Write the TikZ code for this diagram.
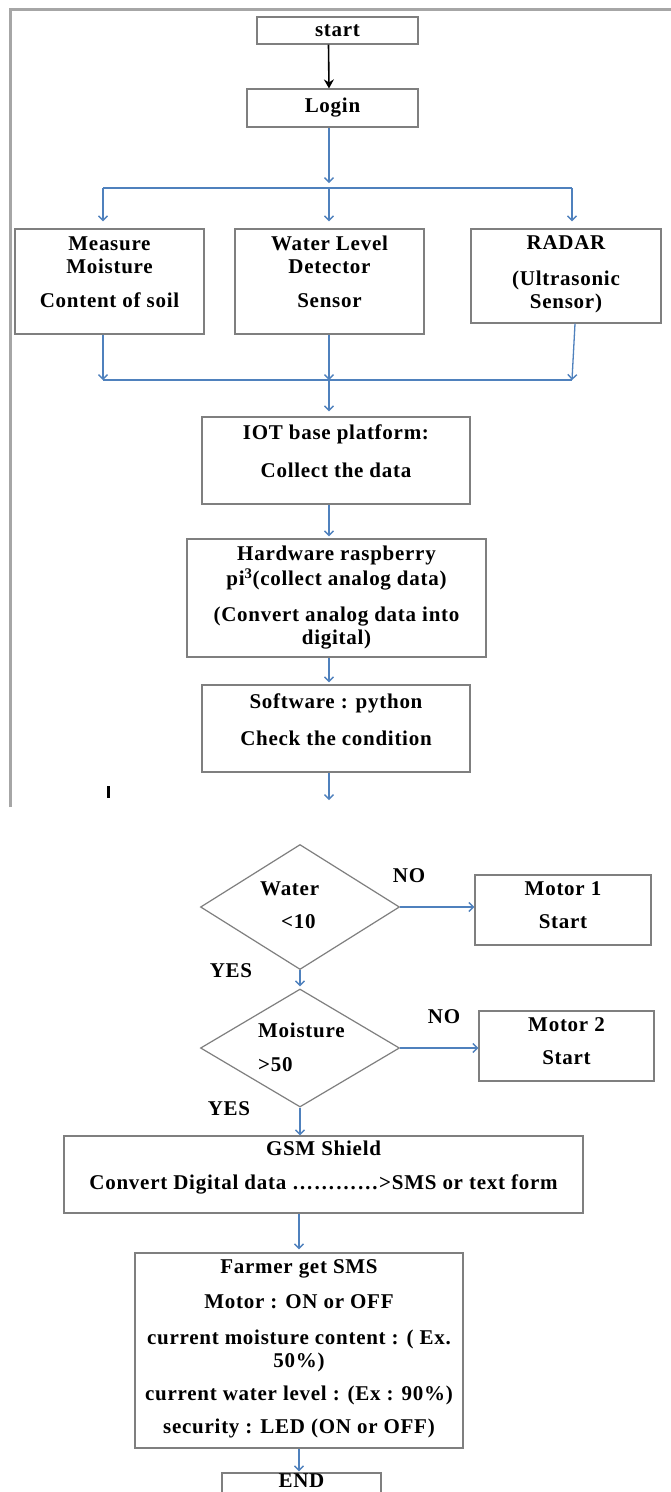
\documentclass[tikz,border=0pt]{standalone}
\usepackage{fontspec}
\setmainfont{Liberation Serif}[LetterSpace=3.5]
\usetikzlibrary{shapes.geometric,arrows.meta}
\definecolor{lnblue}{HTML}{4F81BD}
\definecolor{bxgray}{HTML}{7F7F7F}
\definecolor{frgray}{HTML}{A6A6A6}
\newcommand{\pbx}[4]{\parbox[c][#2][t]{#1}{\centering\vspace*{#3}\strut #4}}
\begin{document}
\begin{tikzpicture}[x=1pt,y=-1pt,
  every node/.style={font={\fontsize{21}{23}\selectfont\bfseries}},
  box/.style={draw=bxgray,line width=1.2pt,inner sep=0pt,fill=white},
  dmd/.style={draw=bxgray,line width=1.2pt,diamond,inner sep=0pt},
  lbl/.style={inner sep=0pt},
  flow/.style={draw=lnblue,line width=1.3pt},
  arr/.style={flow,-{Straight Barb[length=4.5pt,width=9pt,line width=1.4pt]}},
  blackarr/.style={draw=black,line width=1.6pt,-{Stealth[length=9pt,width=10pt,inset=3pt]}}
]
\useasboundingbox (0,0) rectangle (671,1492);
\clip (0,0) rectangle (671,1492);
\fill[white] (0,0) rectangle (671,1492);

% frame of the upper part
\draw[frgray,line width=3pt] (10,807) -- (10,9) -- (671,9);
\draw[black,line width=3pt] (108,786) -- (108,798);

% upper boxes
\node[box,minimum width=161pt,minimum height=27pt] (start) at (337.5,30.5) {start};
\node[box,minimum width=171pt,minimum height=38pt] (login) at (332.5,108) {Login};

\node[box] (m1) at (109.5,281.5) {\pbx{189pt}{105pt}{5.4pt}{Measure\\Moisture\\[11pt]Content of soil}};
\node[box] (m2) at (329.5,281.5) {\pbx{189pt}{105pt}{5.4pt}{Water Level\\Detector\\[11pt]Sensor}};
\node[box] (m3) at (566,276) {\pbx{190pt}{94pt}{4.4pt}{RADAR\\[13pt](Ultrasonic\\Sensor)}};

\node[box] (iot) at (336,460.5) {\pbx{268pt}{87pt}{6.4pt}{IOT base platform:\\[15pt]Collect the data}};
\node[box] (hw) at (336.5,598) {\pbx{299pt}{118pt}{5.4pt}{Hardware raspberry\\pi\textsuperscript{3}(collect analog data)\\[13pt](Convert analog data into\\digital)}};
\node[box] (sw) at (336,728.5) {\pbx{268pt}{87pt}{7.4pt}{Software : python\\[14pt]Check the condition}};

% junction points
\coordinate (jt) at (329,188);
\coordinate (jtl) at (103,188);
\coordinate (jtr) at (572,188);
\coordinate (jb) at (329,380);
\coordinate (jbl) at (103,380);
\coordinate (jbr) at (572,380);
\coordinate (swend) at (329,800);

\draw[blackarr] ([xshift=-9pt]start.south) -- ([xshift=-3.5pt]login.north);
\draw[arr] (login.south -| jt) -- ([yshift=5pt]jt);
\draw[flow] (jtl) -- (jtr);
\draw[arr] (jtl) -- ([yshift=7pt]m1.north -| jtl);
\draw[arr] (jt) -- ([yshift=7pt]m2.north -| jt);
\draw[arr] (jtr) -- ([yshift=7pt]m3.north -| jtr);

\draw[arr] (m1.south -| jbl) -- (jbl);
\draw[arr] (m2.south -| jb) -- (jb);
\draw[arr] ([xshift=3pt]m3.south -| jbr) -- (jbr);
\draw[flow] (jbl) -- (jbr);
\draw[arr] (jb) -- ([yshift=5pt]iot.north -| jb);
\draw[arr] (iot.south -| jb) -- ([yshift=2pt]hw.north -| jb);
\draw[arr] (hw.south -| jb) -- ([yshift=2pt]sw.north -| jb);
\draw[arr] (sw.south -| swend) -- (swend);

% lower part
\node[dmd,minimum width=199pt,minimum height=125pt] (d1) at (300,907) {};
\node[lbl,anchor=base west] (d1a) at (260,895.5) {Water};
\node[lbl,anchor=base west] (d1b) at (281,928.5) {<10};
\node[box] (mo1) at (563,910) {\pbx{176pt}{70pt}{4.4pt}{Motor 1\\[10pt]Start}};
\node[lbl] (no1) at (409,876) {NO};
\node[lbl] (yes1) at (231,971) {YES};

\node[dmd,minimum width=199pt,minimum height=118pt] (d2) at (300,1048) {};
\node[lbl,anchor=base west] (d2a) at (258,1037.5) {Moisture};
\node[lbl,anchor=base west] (d2b) at (258,1071.5) {>50};
\node[box] (mo2) at (566.5,1046) {\pbx{175pt}{70pt}{4.4pt}{Motor 2\\[10pt]Start}};
\node[lbl] (no2) at (444,1017) {NO};
\node[lbl] (yes2) at (229,1109) {YES};

\node[box] (gsm) at (323.5,1174.5) {\pbx{519pt}{77pt}{3.4pt}{GSM Shield\\[11pt]Convert Digital data …………>SMS or text form}};
\node[box] (farmer) at (299,1350.5) {\pbx{328pt}{195pt}{4.4pt}{Farmer get SMS\\[12pt]Motor : ON or OFF\\[13pt]current moisture content : ( Ex.\\50\%)\\[10pt]current water level : (Ex : 90\%)\\[10pt]security : LED (ON or OFF)}};
\node[box] (end) at (301.5,1488) {\pbx{159pt}{30pt}{-1.5pt}{END}};

\draw[arr] (d1.east) -- (d1.east -| mo1.west);
\draw[arr] (d1.south) -- ([yshift=2pt]d2.north);
\draw[arr] (d2.east) -- (d2.east -| mo2.west);
\draw[arr] (d2.south) -- (d2.south |- gsm.north);
\draw[arr] (farmer.north |- gsm.south) -- ([yshift=3pt]farmer.north);
\draw[arr] (farmer.south) -- ([yshift=1pt]end.north -| farmer.south);
\end{tikzpicture}
\end{document}
